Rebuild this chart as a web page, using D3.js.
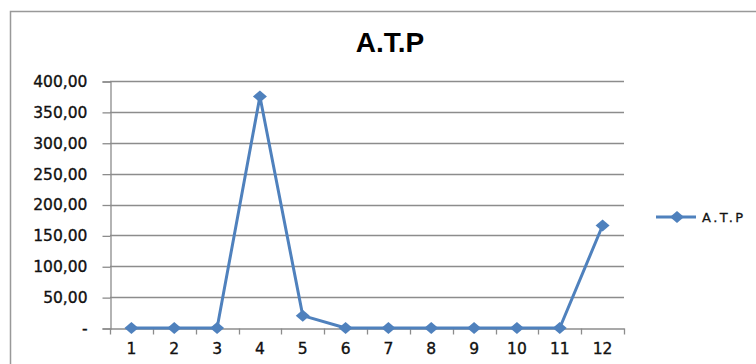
<!DOCTYPE html>
<html><head><meta charset="utf-8">
<script src="https://cdn.jsdelivr.net/npm/d3@7"></script>
<style>html,body{margin:0;padding:0;background:#fff;}svg{display:block;}</style>
</head><body>
<script>
const categories = ["1","2","3","4","5","6","7","8","9","10","11","12"];
const atpValues = [0, 0, 0, 375, 20, 0, 0, 0, 0, 0, 0, 166];
const yTicks = [0, 50, 100, 150, 200, 250, 300, 350, 400];
const seriesName = "A.T.P";
const titleText = "A.T.P";

const W = 756, H = 364;
const svg = d3.select("body").append("svg").attr("width", W).attr("height", H);
const blue = "#4F81BD", grid = "#8c8c8c";
const font = "'DejaVu Sans', Verdana, sans-serif";

svg.append("rect").attr("x", 10.5).attr("y", 11.5).attr("width", 770).attr("height", 380)
  .attr("fill", "#fff").attr("stroke", "#999").attr("stroke-width", 1.5);

const pLeft = 110, pRight = 624, pTop = 81, pBottom = 328;
const x = d3.scaleBand().domain(categories).range([pLeft, pRight]);
const y = d3.scaleLinear().domain([0, 400]).range([pBottom, pTop]);

const fmt = v => v === 0 ? "-" : d3.format(".2f")(v).replace(".", ",");

// gridlines
svg.append("g").selectAll("line").data(yTicks.filter(d => d > 0)).join("line")
  .attr("x1", pLeft).attr("x2", pRight)
  .attr("y1", d => Math.round(y(d)) + 0.5).attr("y2", d => Math.round(y(d)) + 0.5)
  .attr("stroke", grid).attr("stroke-width", 1.3);

// y axis
const yAxis = svg.append("g").attr("transform", `translate(${pLeft + 0.5},0.5)`)
  .call(d3.axisLeft(y).tickValues(yTicks).tickFormat(fmt).tickSize(8).tickPadding(15));
yAxis.select(".domain").attr("stroke", grid).attr("stroke-width", 1.3);
yAxis.selectAll(".tick line").attr("stroke", grid).attr("stroke-width", 1.3);
yAxis.selectAll(".tick text").attr("font-family", font).attr("font-size", 15.5).attr("fill", "#111")
  .attr("stroke", "#111").attr("stroke-width", 0.35);

// x axis
const xAxis = svg.append("g").attr("transform", `translate(0,${Math.round(pBottom) + 0.5})`)
  .call(d3.axisBottom(x).tickSize(0).tickPadding(14));
xAxis.select(".domain").attr("stroke", grid).attr("stroke-width", 1.3);
xAxis.selectAll(".tick text").attr("font-family", font).attr("font-size", 15.5).attr("fill", "#111")
  .attr("stroke", "#111").attr("stroke-width", 0.35);
const bounds = categories.map(c => x(c)).concat([pRight]);
xAxis.append("g").selectAll("line").data(bounds).join("line")
  .attr("x1", d => Math.round(d) + 0.5).attr("x2", d => Math.round(d) + 0.5)
  .attr("y1", 0).attr("y2", 6).attr("stroke", grid).attr("stroke-width", 1.3);

// line
const cx = (c) => x(c) + x.bandwidth() / 2;
const line = d3.line().x((d, i) => cx(categories[i])).y(d => y(d));
svg.append("path").datum(atpValues).attr("d", line)
  .attr("fill", "none").attr("stroke", blue).attr("stroke-width", 3).attr("stroke-linejoin", "round");

const diamond = (px, py, w, h) => `M${px},${py - h}L${px + w},${py}L${px},${py + h}L${px - w},${py}Z`;
svg.append("g").selectAll("path").data(atpValues).join("path")
  .attr("d", (d, i) => diamond(cx(categories[i]), y(d), 7, 6)).attr("fill", blue);

// title
svg.append("text").attr("x", 390).attr("y", 52).attr("text-anchor", "middle")
  .attr("font-family", "'Liberation Sans', Arial, sans-serif").attr("font-weight", "bold")
  .attr("font-size", 28).attr("fill", "#000").text(titleText);

// legend
const ly = 217;
svg.append("line").attr("x1", 656).attr("x2", 696).attr("y1", ly).attr("y2", ly)
  .attr("stroke", blue).attr("stroke-width", 3);
svg.append("path").attr("d", diamond(677, ly, 7, 6)).attr("fill", blue);
svg.append("text").attr("x", 702).attr("y", ly + 5).attr("font-family", font)
  .attr("font-size", 13).attr("letter-spacing", 2.5).attr("fill", "#111")
  .attr("stroke", "#111").attr("stroke-width", 0.3).text(seriesName);
</script>
</body></html>
